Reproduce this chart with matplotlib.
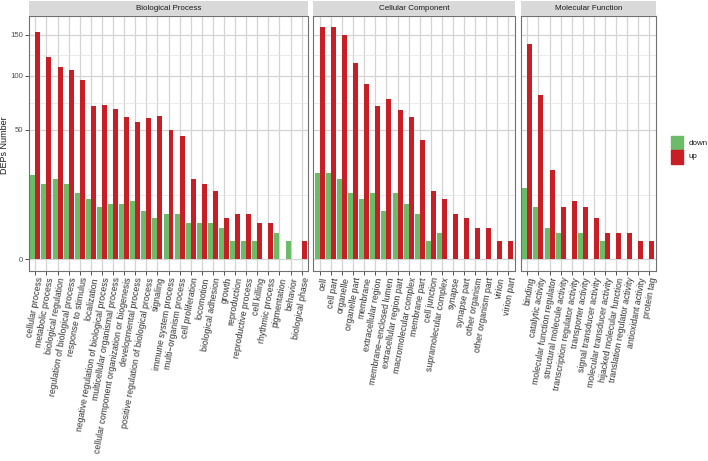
import numpy as np
import matplotlib.pyplot as plt

plt.rcParams['font.family'] = ['Liberation Sans', 'DejaVu Sans']

W, H = 708, 461

bp_terms = ['cellular process', 'metabolic process', 'biological regulation',
            'regulation of biological process', 'response to stimulus', 'localization',
            'negative regulation of biological process', 'multicellular organismal process',
            'cellular component organization or biogenesis', 'developmental process',
            'positive regulation of biological process', 'signaling', 'immune system process',
            'multi\u2212organism process', 'cell proliferation', 'locomotion',
            'biological adhesion', 'growth', 'reproduction', 'reproductive process',
            'cell killing', 'rhythmic process', 'pigmentation', 'behavior', 'biological phase']
bp_down = [21, 17, 19, 17, 13, 11, 8, 9, 9, 10, 7, 5, 6, 6, 4, 4, 4, 3, 1, 1, 1, 0, 2, 1, 0]
bp_up = [154, 122, 110, 107, 96, 70, 71, 67, 60, 56, 59, 61, 50, 45, 19, 17, 14, 5, 6, 6,
         4, 4, 0, 0, 1]

cc_terms = ['cell', 'cell part', 'organelle', 'organelle part', 'membrane',
            'extracellular region', 'membrane\u2212enclosed lumen', 'extracellular region part',
            'macromolecular complex', 'membrane part', 'cell junction',
            'supramolecular complex', 'synapse', 'synapse part', 'other organism',
            'other organism part', 'virion', 'virion part']
cc_down = [22, 22, 19, 13, 11, 13, 7, 13, 9, 6, 1, 2, 0, 0, 0, 0, 0, 0]
cc_up = [160, 160, 150, 114, 91, 70, 76, 66, 60, 42, 14, 11, 6, 5, 3, 3, 1, 1]

mf_terms = ['binding', 'catalytic activity', 'molecular function regulator',
            'structural molecule activity', 'transcription regulator activity',
            'transporter activity', 'signal transducer activity',
            'molecular transducer activity', 'hijacked molecular function',
            'translation regulator activity', 'antioxidant activity', 'protein tag']
mf_down = [15, 8, 3, 2, 0, 2, 0, 1, 0, 0, 0, 0]
mf_up = [138, 80, 24, 8, 10, 8, 5, 2, 2, 2, 1, 1]

panels = [('Biological Process', bp_terms, bp_down, bp_up, 28.7, 308.3),
          ('Cellular Component', cc_terms, cc_down, cc_up, 313.3, 515.0),
          ('Molecular Function', mf_terms, mf_down, mf_up, 520.7, 656.0)]

green = '#6CBB69'
red = '#C81E25'
grid_col = '#D4D4D4'
border_col = '#707070'

fwd = lambda v: np.sign(v) * np.sqrt(np.abs(v))
inv = lambda v: np.sign(v) * v ** 2

top_px, bot_px = 15.7, 271.0
strip_top = 1.0

fig = plt.figure(figsize=(W / 100, H / 100), dpi=100)

for i, (title, terms, down, up, x0, x1) in enumerate(panels):
    ax = fig.add_axes([x0 / W, 1 - bot_px / H, (x1 - x0) / W, (bot_px - top_px) / H])
    ax.set_yscale('function', functions=(fwd, inv))
    x = np.arange(len(terms))
    d = np.array(down)
    u = np.array(up)
    m = d > 0
    ax.bar(x[m] - 0.225, d[m], width=0.45, color=green, zorder=2)
    m = u > 0
    ax.bar(x[m] + 0.225, u[m], width=0.45, color=red, zorder=2)
    ax.set_xlim(-0.6, len(terms) - 0.4)
    ax.set_ylim(-0.4, 176.4)
    ax.set_yticks([0, 50, 100, 150])
    ax.set_yticks([12.5, 72.9, 123.8], minor=True)
    ax.set_xticks(x)
    ax.set_xticklabels(terms, rotation=80, ha='right', va='top', rotation_mode='anchor',
                       fontsize=6.3, color='#333333')
    ax.grid(True, which='major', color=grid_col, linewidth=0.9, zorder=0)
    ax.grid(True, which='minor', axis='y', color='#E2E2E2', linewidth=0.5, zorder=0)
    ax.set_axisbelow(True)
    ax.tick_params(which='minor', length=0)
    ax.tick_params(which='major', length=2.6, width=0.6, color='#333333', pad=1.5)
    ax.tick_params(axis='y', labelsize=5.6, labelcolor='#4D4D4D')
    if i > 0:
        ax.tick_params(axis='y', labelleft=False, length=0)
    for s in ax.spines.values():
        s.set_color(border_col)
        s.set_linewidth(0.8)

    sax = fig.add_axes([x0 / W, 1 - top_px / H, (x1 - x0) / W, (top_px - strip_top) / H])
    sax.set_facecolor('#D9D9D9')
    sax.set_xticks([])
    sax.set_yticks([])
    for s in sax.spines.values():
        s.set_visible(False)
    sax.text(0.5, 0.5, title, ha='center', va='center', fontsize=5.8, color='#1A1A1A',
             transform=sax.transAxes)

fig.text(4.8 / W, 1 - 145 / H, 'DEPs Number', rotation=90, ha='center', va='center',
         fontsize=6.5, color='#1A1A1A')

# legend
for j, (lab, col) in enumerate([('down', green), ('up', red)]):
    ky = 136 + j * 14
    fig.patches.append(plt.Rectangle((670.7 / W, 1 - (ky + 14) / H), 12.6 / W, 14 / H,
                                     color=col, transform=fig.transFigure))
    fig.text(688.5 / W, 1 - (ky + 7) / H, lab, ha='left', va='center', fontsize=5.8,
             color='#1A1A1A')

fig.savefig('out.png', dpi=100)
